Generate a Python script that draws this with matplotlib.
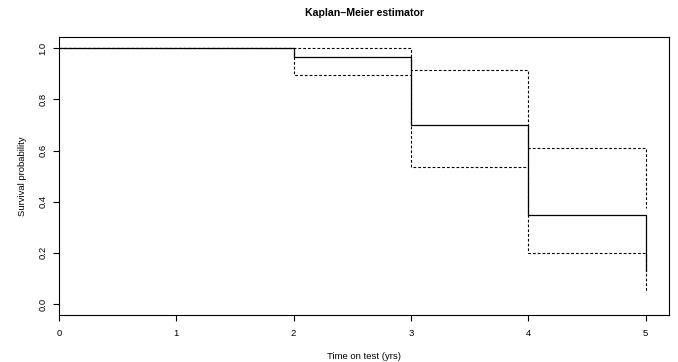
import matplotlib
matplotlib.use("Agg")
import matplotlib.pyplot as plt

# Data
times = [0, 2, 3, 4, 5]
surv = [1.0, 0.965, 0.70, 0.35, 0.13]
upper = [1.0, 1.0, 0.915, 0.61, 0.375]
lower = [1.0, 0.895, 0.535, 0.20, 0.045]
xticks = [0, 1, 2, 3, 4, 5]
yticks = [0.0, 0.2, 0.4, 0.6, 0.8, 1.0]
ytick_labels = ["0.0", "0.2", "0.4", "0.6", "0.8", "1.0"]

plt.rcParams['font.family'] = ['Liberation Sans', 'DejaVu Sans']

fig = plt.figure(figsize=(6.78, 3.62), dpi=100)
ax = fig.add_axes([59/678, 1 - 315/362, (669 - 59)/678, (315 - 37.3)/362])

dot = (0, (2.5, 1.8))
ax.step(times, upper, where='post', color='black', lw=0.8, linestyle=dot)
ax.step(times, lower, where='post', color='black', lw=0.8, linestyle=dot)
ax.step(times, surv, where='post', color='black', lw=0.9)

ax.set_xlim(0, 5.2)
ax.set_ylim(-0.043, 1.043)
ax.set_xticks(xticks)
ax.set_xticklabels([str(x) for x in xticks])
ax.set_yticks(yticks)
ax.set_yticklabels(ytick_labels, rotation=90, va='center')

for s in ax.spines.values():
    s.set_linewidth(0.8)
ax.tick_params(axis='both', direction='out', length=4.3, width=0.8,
               labelsize=6.8)
ax.tick_params(axis='x', pad=6)
ax.tick_params(axis='y', pad=4)

ax.set_xlabel("Time on test (yrs)", fontsize=6.8, labelpad=10)
ax.set_ylabel("Survival probability", fontsize=6.8, labelpad=8)
ax.set_title("Kaplan\u2013Meier estimator", fontsize=7.6, fontweight='bold', pad=15)

fig.savefig("out.png", dpi=100)
